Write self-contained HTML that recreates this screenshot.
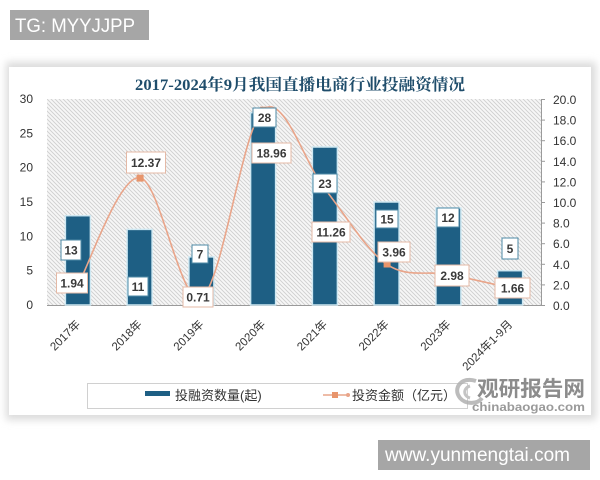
<!DOCTYPE html>
<html><head><meta charset="utf-8"><style>
html,body{margin:0;padding:0;background:#fff;}
body{width:600px;height:480px;overflow:hidden;position:relative;}
svg{display:block;}
.t{font-family:"Liberation Sans","Noto Sans CJK SC",sans-serif;}
</style></head><body>
<svg width="600" height="480" viewBox="0 0 600 480" xmlns="http://www.w3.org/2000/svg">
<defs>
<pattern id="h" width="4" height="4" patternUnits="userSpaceOnUse">
<rect width="4" height="4" fill="#f7f7f7"/>
<path d="M-1,-1 L5,5 M3,-1 L5,1 M-1,3 L1,5" stroke="#cfcfcf" stroke-width="0.9"/>
</pattern>
<filter id="sh" x="-5%" y="-5%" width="110%" height="110%"><feGaussianBlur stdDeviation="4"/></filter>
</defs>
<rect width="600" height="480" fill="#fff"/>
<!-- TG box -->
<rect x="10" y="10" width="139" height="30" fill="#a6a6a6"/>
<text class="t" x="15" y="32" font-size="19" fill="#fff" textLength="120" lengthAdjust="spacingAndGlyphs">TG: MYYJJPP</text>
<!-- panel -->
<rect x="6" y="62" width="590" height="358" fill="#dcdcdc" filter="url(#sh)"/>
<rect x="9" y="67" width="582" height="348" fill="#fff"/>
<!-- title -->
<text x="300" y="90" text-anchor="middle" font-family="'Liberation Serif','Noto Serif CJK SC',serif" font-weight="bold" font-size="16" fill="#1f4d6b" textLength="330" lengthAdjust="spacingAndGlyphs">2017-2024年9月我国直播电商行业投融资情况</text>
<!-- plot bg -->
<rect x="47" y="99" width="494" height="206" fill="url(#h)"/>
<!-- axes -->
<line x1="47" y1="305.5" x2="541" y2="305.5" stroke="#9a9a9a" stroke-width="1"/>
<line x1="541.5" y1="99" x2="541.5" y2="305" stroke="#9a9a9a" stroke-width="1"/>
<g stroke="#9a9a9a" stroke-width="1">
<line x1="541" y1="99.5" x2="545" y2="99.5"/><line x1="541" y1="120.1" x2="545" y2="120.1"/>
<line x1="541" y1="140.7" x2="545" y2="140.7"/><line x1="541" y1="161.3" x2="545" y2="161.3"/>
<line x1="541" y1="181.9" x2="545" y2="181.9"/><line x1="541" y1="202.5" x2="545" y2="202.5"/>
<line x1="541" y1="223.1" x2="545" y2="223.1"/><line x1="541" y1="243.7" x2="545" y2="243.7"/>
<line x1="541" y1="264.3" x2="545" y2="264.3"/><line x1="541" y1="284.9" x2="545" y2="284.9"/>
<line x1="541" y1="305.5" x2="545" y2="305.5"/>
</g>
<!-- left labels -->
<g class="t" font-size="12" fill="#333" text-anchor="end">
<text x="33" y="103">30</text><text x="33" y="137.3">25</text><text x="33" y="171.7">20</text>
<text x="33" y="206">15</text><text x="33" y="240.3">10</text><text x="33" y="274.7">5</text><text x="33" y="309">0</text>
</g>
<!-- right labels -->
<g class="t" font-size="12" fill="#333">
<text x="553" y="104">20.0</text><text x="553" y="124.6">18.0</text><text x="553" y="145.2">16.0</text>
<text x="553" y="165.8">14.0</text><text x="553" y="186.4">12.0</text><text x="553" y="207">10.0</text>
<text x="553" y="227.6">8.0</text><text x="553" y="248.2">6.0</text><text x="553" y="268.8">4.0</text>
<text x="553" y="289.4">2.0</text><text x="553" y="310">0.0</text>
</g>
<!-- bars -->
<g fill="#1e5f84" stroke="#cfe8f2" stroke-width="1.5">
<rect x="65.4" y="215.7" width="25" height="89.3"/>
<rect x="127.1" y="229.4" width="25" height="75.6"/>
<rect x="188.9" y="256.9" width="25" height="48.1"/>
<rect x="250.6" y="112.7" width="25" height="192.3"/>
<rect x="312.4" y="147" width="25" height="158"/>
<rect x="374.1" y="202" width="25" height="103"/>
<rect x="435.9" y="208" width="25" height="97"/>
<rect x="497.6" y="270.7" width="25" height="34.3"/>
</g>
<!-- line -->
<path d="M77.9,285 C88.3,267.1 119,175.5 139.6,177.6 C160.2,179.7 180.8,309 201.4,297.7 C222,286.4 242.5,127.8 263.1,109.7 C283.7,91.6 304.3,163.3 324.9,189 C345.5,214.8 366,250 386.6,264.2 C407.2,278.4 427.8,270.4 448.4,274.3 C469,278.3 499.8,285.6 510.1,287.9" fill="none" stroke="#e9a58a" stroke-width="1.6"/>
<g fill="#e8956c">
<rect x="74.9" y="282" width="6" height="6"/><rect x="136.6" y="174.6" width="7" height="7"/>
<rect x="198.4" y="294.7" width="6" height="6"/><rect x="260.1" y="106.7" width="6" height="6"/>
<rect x="321.9" y="186" width="6" height="6"/><rect x="383.6" y="260.5" width="7" height="7"/>
<rect x="445.4" y="271.3" width="6" height="6"/><rect x="507.1" y="284.9" width="6" height="6"/>
</g>
<!-- bar labels -->
<g fill="#fff" stroke="#4d8aa6" stroke-width="1">
<rect x="61" y="240" width="20" height="20"/>
<rect x="128" y="277" width="20" height="19"/>
<rect x="192" y="245" width="16" height="18"/>
<rect x="253" y="108" width="23" height="19"/>
<rect x="313" y="174" width="24" height="19"/>
<rect x="376" y="210" width="22" height="18"/>
<rect x="437" y="208" width="22" height="19"/>
<rect x="502" y="238" width="16" height="21"/>
</g>
<!-- line labels -->
<g fill="#fff" stroke="#e4b9a6" stroke-width="1">
<rect x="56.5" y="273" width="31" height="20"/>
<rect x="126.5" y="152" width="39" height="21"/>
<rect x="183" y="287" width="30" height="20"/>
<rect x="252" y="143" width="39" height="20"/>
<rect x="312" y="222" width="38" height="20"/>
<rect x="378" y="242" width="32" height="20"/>
<rect x="435" y="265" width="34" height="21"/>
<rect x="495" y="278" width="35" height="20"/>
</g>
<g class="t" font-size="12" font-weight="bold" fill="#3a3a3a" text-anchor="middle">
<text x="71" y="254.5">13</text><text x="138" y="291">11</text><text x="200" y="258.5">7</text>
<text x="264.5" y="122">28</text><text x="325" y="188">23</text><text x="387" y="223.5">15</text>
<text x="448" y="222">12</text><text x="510" y="253">5</text>
<text x="72" y="287.5">1.94</text><text x="146" y="167">12.37</text><text x="198" y="301.5">0.71</text>
<text x="271.5" y="157.5">18.96</text><text x="331" y="236.5">11.26</text><text x="394" y="256.5">3.96</text>
<text x="452" y="280">2.98</text><text x="512.5" y="292.5">1.66</text>
</g>
<!-- x labels -->
<g class="t" font-size="11.5" fill="#333" text-anchor="end">
<text transform="translate(81,325) rotate(-45)">2017年</text>
<text transform="translate(142.6,325) rotate(-45)">2018年</text>
<text transform="translate(204.4,325) rotate(-45)">2019年</text>
<text transform="translate(266.1,325) rotate(-45)">2020年</text>
<text transform="translate(327.9,325) rotate(-45)">2021年</text>
<text transform="translate(389.6,325) rotate(-45)">2022年</text>
<text transform="translate(451.4,325) rotate(-45)">2023年</text>
<text transform="translate(513.1,325) rotate(-45)">2024年1-9月</text>
</g>
<!-- legend -->
<rect x="87.5" y="383.5" width="380" height="25" fill="#fff" stroke="#d0d0d0" stroke-width="1"/>
<rect x="145" y="391" width="25" height="5" fill="#1e5f84"/>
<text class="t" x="175" y="400" font-size="13" fill="#333">投融资数量(起)</text>
<line x1="323" y1="395" x2="350" y2="395" stroke="#e9a58a" stroke-width="1.6"/>
<rect x="332" y="392" width="6" height="6" fill="#e8956c"/>
<circle cx="348" cy="395" r="2" fill="#e9a58a"/>
<text class="t" x="352" y="400" font-size="13" fill="#333">投资金额（亿元）</text>
<!-- watermark -->
<path d="M476,381 C462,376 452,388 460,398 C466,405 478,404 482,398" fill="none" stroke="#b0b0b0" stroke-width="4" opacity="0.85"/>
<path d="M470,386 C463,388 463,396 470,398" fill="none" stroke="#c4c4c4" stroke-width="3"/>
<text class="t" x="477" y="396" font-size="21" font-weight="bold" fill="#8c8c8c" textLength="108" lengthAdjust="spacingAndGlyphs">观研报告网</text>
<text class="t" x="472" y="411" font-size="12" font-weight="bold" fill="#9a9a9a" textLength="113" lengthAdjust="spacingAndGlyphs">chinabaogao.com</text>
<!-- www box -->
<rect x="378" y="440" width="212" height="30" fill="#a6a6a6"/>
<text class="t" x="385" y="461" font-size="19" fill="#fff" textLength="185" lengthAdjust="spacingAndGlyphs">www.yunmengtai.com</text>
</svg>
</body></html>
